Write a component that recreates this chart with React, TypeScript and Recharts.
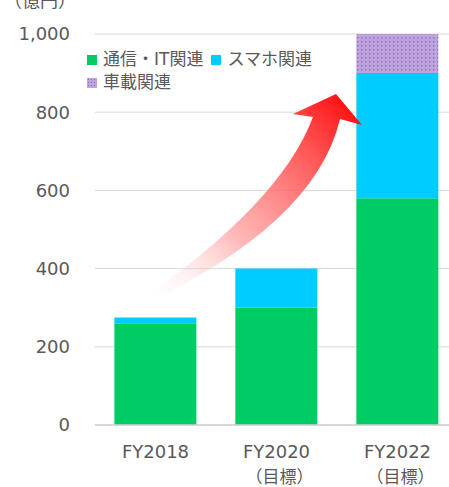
import React from "react";
import { BarChart, Bar, XAxis, YAxis, CartesianGrid } from "recharts";

// 売上高（億円）
const years = ["FY2018", "FY2020", "FY2022"];
const subLabels = ["", "（目標）", "（目標）"];
const telecom = [260, 300, 580];
const smartphone = [15, 100, 320];
const automotive = [0, 0, 100];
const yTicks = [0, 200, 400, 600, 800, 1000];

const seriesNames = ["通信・IT関連", "スマホ関連", "車載関連"];

const data = years.map((y, i) => ({
  name: y,
  sub: subLabels[i],
  telecom: telecom[i],
  smartphone: smartphone[i],
  automotive: automotive[i],
}));

const FONT = "'DejaVu Sans', 'Noto Sans CJK JP', sans-serif";
const TEXT = "#595959";
const GREEN = "#00CC66";
const CYAN = "#00CCFF";

const XTick = (props: any) => {
  const { x, y, payload, index } = props;
  return (
    <g>
      <text x={x} y={y + 25} textAnchor="middle" fill={TEXT} fontSize={18} fontFamily={FONT}>
        {payload.value}
      </text>
      {subLabels[index] && (
        <text x={x + 3} y={y + 50} textAnchor="middle" fill={TEXT} fontSize={17} fontFamily={FONT}>
          {subLabels[index]}
        </text>
      )}
    </g>
  );
};

const Swatch = ({ fill }: { fill: string }) => (
  <svg width={10} height={10} style={{ marginRight: 6 }}>
    <rect width={10} height={10} fill={fill} />
  </svg>
);

export default function App() {
  return (
    <div
      style={{
        position: "absolute",
        left: 0,
        top: 0,
        width: 449,
        height: 487,
        overflow: "hidden",
        background: "#fff",
        fontFamily: FONT,
      }}
    >
      <BarChart
        width={460}
        height={487}
        data={data}
        margin={{ top: 34, right: 2, left: 0, bottom: 0 }}
        barCategoryGap="16%"
      >
        <defs>
          <pattern id="dots" width={4} height={4} patternUnits="userSpaceOnUse">
            <rect width={4} height={4} fill="#BFA3DD" />
            <rect x={1} y={1} width={1.5} height={1.5} fill="#9070C0" />
          </pattern>
        </defs>
        <CartesianGrid vertical={false} stroke="#d9d9d9" />
        <XAxis
          dataKey="name"
          height={62}
          tickLine={false}
          axisLine={{ stroke: "#d0d0d0", strokeWidth: 1.5 }}
          tick={<XTick />}
          interval={0}
        />
        <YAxis
          width={95}
          domain={[0, 1000]}
          ticks={yTicks}
          axisLine={false}
          tickLine={false}
          tickMargin={19}
          tickFormatter={(v: number) => v.toLocaleString("en-US")}
          tick={{ fill: TEXT, fontSize: 18, fontFamily: FONT }}
        />
        <Bar dataKey="telecom" stackId="a" fill={GREEN} isAnimationActive={false} />
        <Bar dataKey="smartphone" stackId="a" fill={CYAN} isAnimationActive={false} />
        <Bar dataKey="automotive" stackId="a" fill="url(#dots)" isAnimationActive={false} />
      </BarChart>

      {/* 単位 */}
      <div
        style={{
          position: "absolute",
          left: 4,
          top: -14,
          fontSize: 18,
          color: TEXT,
          whiteSpace: "nowrap",
        }}
      >
        （億円）
      </div>

      {/* 凡例 */}
      <div
        style={{
          position: "absolute",
          left: 87,
          top: 48,
          width: 240,
          display: "flex",
          flexWrap: "wrap",
          fontSize: 17,
          color: TEXT,
          lineHeight: "23px",
        }}
      >
        {seriesNames.map((n, i) => (
          <div key={n} style={{ display: "flex", alignItems: "center", marginRight: 8 }}>
            {i === 2 ? (
              <svg width={10} height={10} style={{ marginRight: 6 }}>
                <defs>
                  <pattern id="dots2" width={3} height={3} patternUnits="userSpaceOnUse">
                    <rect width={3} height={3} fill="#BFA3DD" />
                    <rect x={1} y={1} width={1} height={1} fill="#8A68BC" />
                  </pattern>
                </defs>
                <rect width={10} height={10} fill="url(#dots2)" />
              </svg>
            ) : (
              <Swatch fill={i === 0 ? GREEN : CYAN} />
            )}
            <span>{n}</span>
          </div>
        ))}
      </div>

      {/* 成長矢印 */}
      <svg
        width={449}
        height={487}
        style={{ position: "absolute", left: 0, top: 0, pointerEvents: "none" }}
      >
        <defs>
          <linearGradient id="arrowGrad" gradientUnits="userSpaceOnUse" x1={140} y1={300} x2={345} y2={105}>
            <stop offset="0" stopColor="#FFFFFF" stopOpacity={0} />
            <stop offset="0.4" stopColor="#FF9A9A" stopOpacity={0.7} />
            <stop offset="1" stopColor="#FF1414" stopOpacity={1} />
          </linearGradient>
        </defs>
        <path
          d="M 133 305 Q 280 205 313 117 L 293 114 L 336 94 L 362 125 L 340 119 Q 315 225 138 307 Z"
          fill="url(#arrowGrad)"
        />
      </svg>
    </div>
  );
}
